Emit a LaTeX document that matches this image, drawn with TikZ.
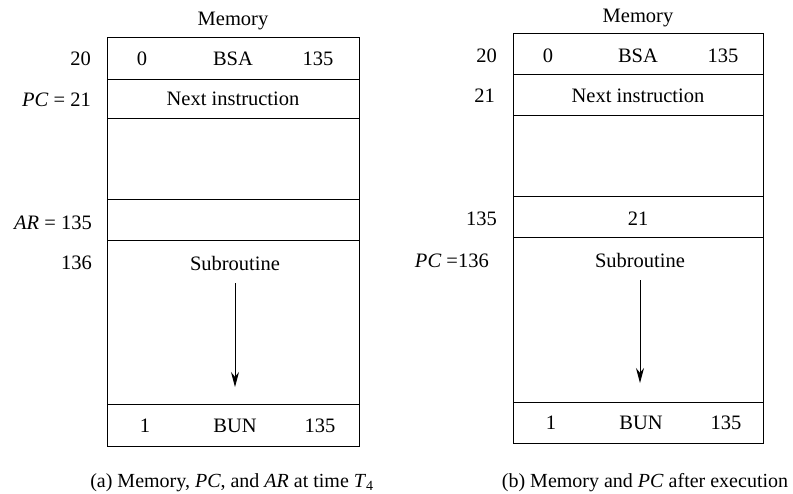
\documentclass[tikz,border=0pt]{standalone}
\usepackage{fontspec}
\setmainfont{Liberation Serif}
\usetikzlibrary{arrows.meta}
\begin{document}
\begin{tikzpicture}[x=1pt,y=-1pt,
  cell/.style={draw,line width=1.4pt,inner sep=0pt,anchor=north west},
  txt/.style={inner sep=0pt,font=\fontsize{20.5}{22}\selectfont},
  captxt/.style={inner sep=0pt,font=\fontsize{20}{22}\selectfont},
  lbl/.style={txt,anchor=east},
  flow/.style={line width=0.9pt,-{Stealth[length=15pt,width=8pt]}}]
\useasboundingbox (0,0) rectangle (793,493);
% ---------- left: (a)
\node[txt] (memA) at (233,21) {Memory};
\node[cell,minimum width=252pt,minimum height=42pt] (a1) at (107,37) {};
\node[cell,minimum width=252pt,minimum height=39pt] (a2) at (107,79) {};
\node[cell,minimum width=252pt,minimum height=81pt] (a3) at (107,118) {};
\node[cell,minimum width=252pt,minimum height=41pt] (a4) at (107,199) {};
\node[cell,minimum width=252pt,minimum height=164pt] (a5) at (107,240) {};
\node[cell,minimum width=252pt,minimum height=42pt] (a6) at (107,404) {};
\node[txt] (a1l) at (142,59) {0};
\node[txt] (a1c) at (233,59) {BSA};
\node[txt] (a1r) at (318,59) {135};
\node[txt] (a2c) at (233,99) {Next instruction};
\node[txt] (a5c) at (235,263) {Subroutine};
\node[txt] (a6l) at (145,426) {1};
\node[txt] (a6c) at (235,426) {BUN};
\node[txt] (a6r) at (320,426) {135};
\node[lbl] (la1) at (91,59) {20};
\node[lbl] (la2) at (91,100) {\textit{PC} = 21};
\node[lbl] (la4) at (92,223) {\textit{AR} = 135};
\node[lbl] (la5) at (92,263) {136};
\coordinate (a5s) at (235,283);
\coordinate (a5e) at (235,387);
\draw[flow] (a5s) -- (a5e);
\node[captxt] (capA) at (232,483) {(a) Memory, \textit{PC}, and \textit{AR} at time \textit{T}\textsubscript{4}};
% ---------- right: (b)
\node[txt] (memB) at (638,18) {Memory};
\node[cell,minimum width=250pt,minimum height=41pt] (b1) at (513,33) {};
\node[cell,minimum width=250pt,minimum height=41pt] (b2) at (513,74) {};
\node[cell,minimum width=250pt,minimum height=81pt] (b3) at (513,115) {};
\node[cell,minimum width=250pt,minimum height=41pt] (b4) at (513,196) {};
\node[cell,minimum width=250pt,minimum height=165pt] (b5) at (513,237) {};
\node[cell,minimum width=250pt,minimum height=41pt] (b6) at (513,402) {};
\node[txt] (b1l) at (548,56) {0};
\node[txt] (b1c) at (638,56) {BSA};
\node[txt] (b1r) at (723,56) {135};
\node[txt] (b2c) at (638,96) {Next instruction};
\node[txt] (b4c) at (638,219) {21};
\node[txt] (b5c) at (640,260) {Subroutine};
\node[txt] (b6l) at (551,423) {1};
\node[txt] (b6c) at (641,423) {BUN};
\node[txt] (b6r) at (726,423) {135};
\node[lbl] (lb1) at (497,56) {20};
\node[lbl] (lb2) at (495,96) {21};
\node[lbl] (lb4) at (497,219) {135};
\node[lbl] (lb5) at (489,261) {\textit{PC} =136};
\coordinate (b5s) at (640,280);
\coordinate (b5e) at (640,383);
\draw[flow] (b5s) -- (b5e);
\node[captxt] (capB) at (645,483) {(b) Memory and \textit{PC} after execution};
\end{tikzpicture}
\end{document}
